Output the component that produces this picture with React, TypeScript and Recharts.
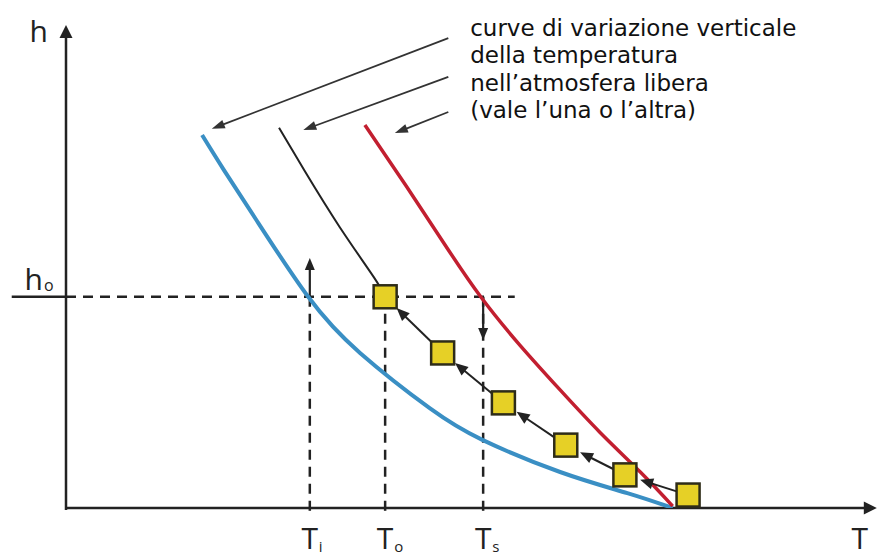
import React from 'react';
import {
  ComposedChart, Line, Scatter, XAxis, YAxis, ReferenceLine, ReferenceDot,
} from 'recharts';

// schematic units: temperature T on x, height h on y, both 0..100
const tempI = 30.1;
const tempO = 39.4;
const tempS = 51.5;
const tempEnd = 98;
const h0 = 44;

const blueCurve = [
  { x: 16.8, y: 77.7 },
  { x: 19.5, y: 70.4 },
  { x: 23.5, y: 60.0 },
  { x: 29.9, y: 44.0 },
  { x: 36.3, y: 32.3 },
  { x: 44.9, y: 20.8 },
  { x: 51.4, y: 14.2 },
  { x: 61.0, y: 7.5 },
  { x: 69.3, y: 3.1 },
  { x: 74.9, y: 0 },
];

const blackCurve = [
  { x: 26.3, y: 79.2 },
  { x: 29.4, y: 70.4 },
  { x: 33.8, y: 58.5 },
  { x: 38.0, y: 48.1 },
  { x: 39.4, y: 44.0 },
];

const redCurve = [
  { x: 36.9, y: 79.8 },
  { x: 42.0, y: 67.1 },
  { x: 46.8, y: 54.8 },
  { x: 51.2, y: 44.0 },
  { x: 56.0, y: 34.0 },
  { x: 61.0, y: 24.6 },
  { x: 65.9, y: 15.8 },
  { x: 70.9, y: 7.5 },
  { x: 74.9, y: 0.4 },
];

// rising parcel steps
const parcel = [
  { x: 39.4, y: 44.0 },
  { x: 46.5, y: 32.3 },
  { x: 54.0, y: 21.9 },
  { x: 61.7, y: 13.1 },
  { x: 69.0, y: 6.9 },
  { x: 76.8, y: 2.7 },
];

const xTicks = [tempI, tempO, tempS, tempEnd];
const xTickLabels = [['T', 'i'], ['T', 'o'], ['T', 's'], ['T', '']];
const yTicks = [h0, 100];
const yTickLabels = [['h', 'o'], ['h', '']];

const noteLines = [
  'curve di variazione verticale',
  'della temperatura',
  'nell\u2019atmosfera libera',
  '(vale l\u2019una o l\u2019altra)',
];
const noteAnchor = { x: 49.9, y: 98.3 };
const noteArrows = [
  [{ x: 47.2, y: 97.9 }, { x: 18.0, y: 79.0 }],
  [{ x: 47.2, y: 89.8 }, { x: 29.3, y: 78.75 }],
  [{ x: 47.2, y: 82.5 }, { x: 40.6, y: 78.1 }],
];

const INK = '#222';
const LABEL_FONT = '"Open Sans", "DejaVu Sans", sans-serif';

type ArrowOpts = { head?: number; width?: number; trimStart?: number; trimEnd?: number };
const arrow = ({ head = 12, width = 10, trimStart = 0, trimEnd = 0 }: ArrowOpts) => (p: any) => {
  const { x1, y1, x2, y2, stroke, strokeWidth } = p;
  const dx = x2 - x1;
  const dy = y2 - y1;
  const len = Math.hypot(dx, dy) || 1;
  const ux = dx / len;
  const uy = dy / len;
  const sx = x1 + ux * trimStart;
  const sy = y1 + uy * trimStart;
  const tx = x2 - ux * trimEnd;
  const ty = y2 - uy * trimEnd;
  const bx = tx - ux * head;
  const by = ty - uy * head;
  const px = (-uy * width) / 2;
  const py = (ux * width) / 2;
  return (
    <g>
      <line x1={sx} y1={sy} x2={bx + ux * 2} y2={by + uy * 2} stroke={stroke} strokeWidth={strokeWidth} />
      <polygon points={`${tx},${ty} ${bx + px},${by + py} ${bx - px},${by - py}`} fill={stroke} />
    </g>
  );
};

const square = (p: any) => (
  <rect
    x={p.cx - 11.5}
    y={p.cy - 11.5}
    width={23}
    height={23}
    fill="#e6d026"
    stroke="#2e2c18"
    strokeWidth={2.5}
  />
);

const XTick = (p: any) => {
  const i = xTicks.indexOf(p.payload.value);
  const [main, sub] = xTickLabels[i] ?? ['', ''];
  return (
    <g fontFamily={LABEL_FONT} fill={INK}>
      <text x={p.x} y={p.y + 41} textAnchor="middle" fontSize={30}>{main}</text>
      {sub && <text x={p.x + 9} y={p.y + 44} fontSize={15}>{sub}</text>}
    </g>
  );
};

const YTick = (p: any) => {
  const i = yTicks.indexOf(p.payload.value);
  const [main, sub] = yTickLabels[i] ?? ['', ''];
  if (sub) {
    return (
      <g fontFamily={LABEL_FONT} fill={INK}>
        <text x={p.x - 23} y={p.y - 7} textAnchor="end" fontSize={30}>{main}</text>
        <text x={p.x - 22} y={p.y - 6} fontSize={16}>{sub}</text>
      </g>
    );
  }
  return (
    <text x={p.x - 18} y={p.y + 14} textAnchor="end" fontSize={30} fontFamily={LABEL_FONT} fill={INK}>
      {main}
    </text>
  );
};

const noteText = (p: any) => (
  <text x={p.cx} y={p.cy} fontFamily='"DejaVu Sans", Verdana, sans-serif' fontSize={23} fill="#111">
    {noteLines.map((l, i) => (
      <tspan key={l} x={p.cx} dy={i === 0 ? 0 : 27.3}>{l}</tspan>
    ))}
  </text>
);

function App() {
  const dash = '10 7';
  return (
    <div style={{ position: 'absolute', left: 0, top: 0, width: 877, height: 560, background: '#fff' }}>
      <ComposedChart width={877} height={560} margin={{ top: 28, right: 1, bottom: 22, left: 6 }}>
        <XAxis
          type="number"
          dataKey="x"
          domain={[0, 100]}
          allowDataOverflow
          ticks={xTicks}
          axisLine={false}
          tickLine={false}
          tickSize={0}
          tickMargin={0}
          height={30}
          tick={<XTick />}
          interval={0}
        />
        <YAxis
          type="number"
          dataKey="y"
          domain={[0, 100]}
          allowDataOverflow
          ticks={yTicks}
          axisLine={false}
          tickLine={false}
          tickSize={0}
          tickMargin={0}
          width={60}
          tick={<YTick />}
          interval={0}
        />

        {/* dashed guides */}
        <ReferenceLine segment={[{ x: -6.7, y: h0 }, { x: 0, y: h0 }]} stroke={INK} strokeWidth={2.5} ifOverflow="visible" />
        <ReferenceLine segment={[{ x: 0, y: h0 }, { x: 55.4, y: h0 }]} stroke={INK} strokeWidth={2.5} strokeDasharray={dash} ifOverflow="visible" />
        {[tempI, tempO, tempS].map((t) => (
          <ReferenceLine key={t} segment={[{ x: t, y: h0 }, { x: t, y: -1.5 }]} stroke={INK} strokeWidth={2.5} strokeDasharray={dash} ifOverflow="visible" />
        ))}
        <ReferenceLine segment={[{ x: tempI, y: h0 }, { x: tempI, y: 52.1 }]} stroke={INK} strokeWidth={2.2} ifOverflow="visible" shape={arrow({ head: 12, width: 10 })} />
        <ReferenceLine segment={[{ x: tempS, y: h0 }, { x: tempS, y: 35.0 }]} stroke={INK} strokeWidth={2.2} ifOverflow="visible" shape={arrow({ head: 12, width: 10 })} />

        {/* axes */}
        <ReferenceLine segment={[{ x: 0, y: -0.4 }, { x: 0, y: 100.6 }]} stroke={INK} strokeWidth={2.5} ifOverflow="visible" shape={arrow({ head: 13, width: 13 })} />
        <ReferenceLine segment={[{ x: 0, y: 0 }, { x: 100.1, y: 0 }]} stroke={INK} strokeWidth={2.5} ifOverflow="visible" shape={arrow({ head: 13, width: 13 })} />

        {/* annotation */}
        {noteArrows.map(([a, b], i) => (
          <ReferenceLine key={i} segment={[a, b]} stroke="#333" strokeWidth={1.8} ifOverflow="visible" shape={arrow({ head: 13, width: 9 })} />
        ))}
        <ReferenceDot x={noteAnchor.x} y={noteAnchor.y} r={0} ifOverflow="visible" shape={noteText} />

        <Line data={blueCurve} dataKey="y" type="natural" stroke="#3a8fc4" strokeWidth={4} dot={false} activeDot={false} isAnimationActive={false} />
        <Line data={blackCurve} dataKey="y" type="natural" stroke={INK} strokeWidth={2} dot={false} activeDot={false} isAnimationActive={false} />
        <Line data={redCurve} dataKey="y" type="natural" stroke="#c21f30" strokeWidth={3.5} dot={false} activeDot={false} isAnimationActive={false} />

        {/* parcel path */}
        {parcel.slice(1).map((p, i) => (
          <ReferenceLine
            key={`s${i}`}
            segment={[p, parcel[i]]}
            stroke={INK}
            strokeWidth={2}
            ifOverflow="visible"
            shape={arrow({ head: 13, width: 11, trimStart: 12, trimEnd: 16 })}
          />
        ))}
        <Scatter data={parcel} dataKey="y" shape={square} isAnimationActive={false} />
      </ComposedChart>
    </div>
  );
}

export default App;
